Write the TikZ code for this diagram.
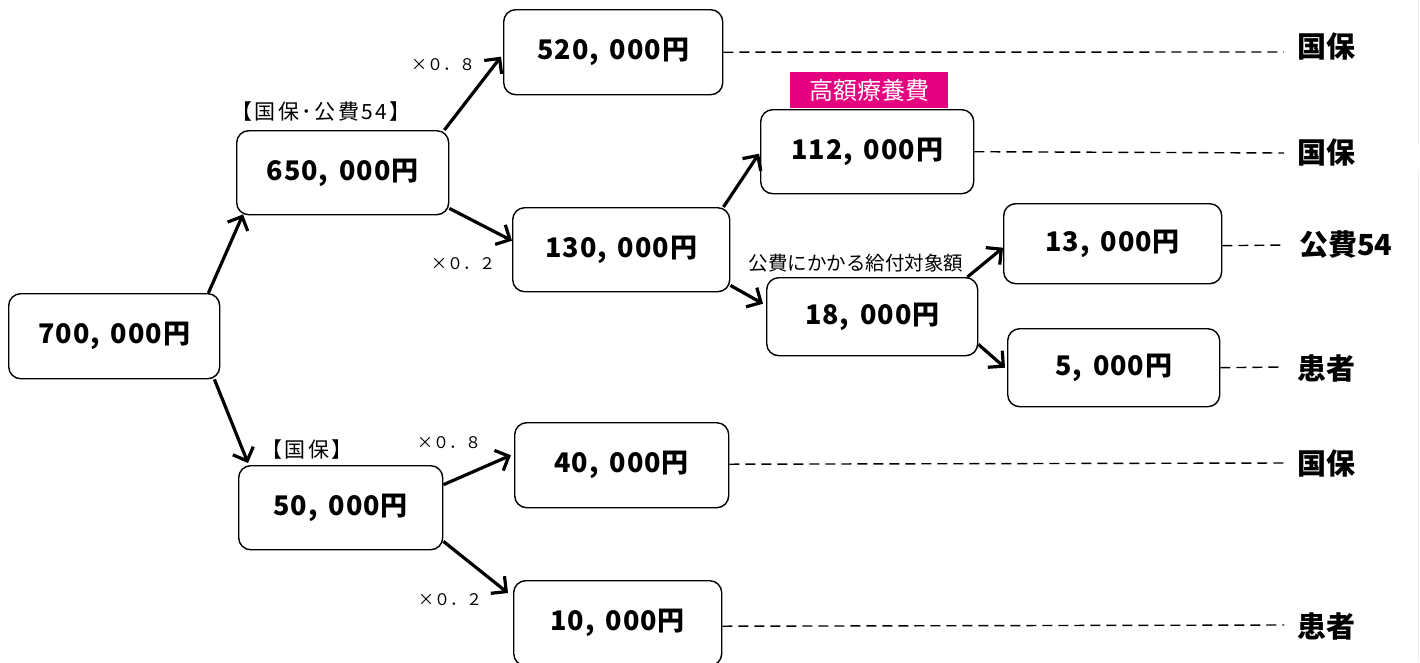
\documentclass[tikz,border=0pt]{standalone}
\usepackage{fontspec}
\setmainfont{Noto Sans CJK JP}
\usetikzlibrary{arrows.meta,calc}
\definecolor{kogaku}{HTML}{E4007F}
\newcommand{\yen}[2]{#1,\hspace{11pt}#2円}
\tikzset{
  amount/.style={draw, line width=1.4pt, rounded corners=12pt, anchor=north west,
    inner sep=0pt, font=\fontsize{27}{30}\selectfont\bfseries\addfontfeature{LetterSpace=3.5}},
  payer/.style={anchor=west, inner sep=0pt, font=\fontsize{29}{32}\selectfont\bfseries},
  note/.style={inner sep=0pt, font=\fontsize{21}{24}\selectfont\addfontfeature{LetterSpace=12}},
  rate/.style={inner sep=0pt, font=\fontsize{16}{20}\selectfont},
  flow/.style={line width=3.2pt, -{Straight Barb[length=11pt,width=22pt,line width=3.2pt]}},
  share/.style={line width=1.4pt, dash pattern=on 10pt off 6pt},
}
\begin{document}
\begin{tikzpicture}[x=1pt,y=-1pt]
\useasboundingbox (0,0) rectangle (1420,662);
\fill[white] (0,0) rectangle (1420,662);
\draw[line width=1pt, color={rgb,255:red,242;green,232;blue,238}] (1418,0) -- (1418,145) (1418,170) -- (1418,662);

% amount boxes
\node[amount, minimum width=211pt, minimum height=85pt] (A) at (8,293) {\yen{700}{000}};
\node[amount, minimum width=212pt, minimum height=84pt] (B) at (236,130) {\yen{650}{000}};
\node[amount, minimum width=219pt, minimum height=85pt] (C) at (503,9) {\yen{520}{000}};
\node[amount, minimum width=217pt, minimum height=84pt] (D) at (512,207) {\yen{130}{000}};
\node[amount, minimum width=213pt, minimum height=84pt] (E) at (760,109) {\yen{112}{000}};
\node[amount, minimum width=211pt, minimum height=78pt] (F) at (766,277) {\yen{18}{000}};
\node[amount, minimum width=218pt, minimum height=80pt] (G) at (1003,203) {\yen{13}{000}};
\node[amount, minimum width=212pt, minimum height=78pt] (H) at (1007,328) {\yen{5}{000}};
\node[amount, minimum width=204pt, minimum height=84pt] (I) at (238,465) {\yen{50}{000}};
\node[amount, minimum width=214pt, minimum height=85pt] (J) at (514,422) {\yen{40}{000}};
\node[amount, minimum width=208pt, minimum height=85pt] (K) at (513,580) {\yen{10}{000}};

% labels
\node[note] (nB) at (321,112) {【国保･公費54】};
\node[note] (nI) at (307,450) {【国保】};
\node[inner sep=0pt, font=\fontsize{19.5}{22}\selectfont] (nF) at (856,263) {公費にかかる給付対象額};
\node[fill=kogaku, text=white, inner sep=0pt, minimum width=158pt, minimum height=36pt,
  font=\fontsize{24}{26}\selectfont] (nE) at (869,90) {高額療養費};
\node[rate] (r1) at (443,65) {×０．８};
\node[rate] (r2) at (463,264) {×０．２};
\node[rate] (r3) at (449,443) {×０．８};
\node[rate] (r4) at (450,600) {×０．２};

% payers
\node[payer] (p1) at (1297,47) {国保};
\node[payer] (p2) at (1297,153) {国保};
\node[payer] (p3) at (1299,245) {公費54};
\node[payer] (p4) at (1297,368) {患者};
\node[payer] (p5) at (1297,463) {国保};
\node[payer] (p6) at (1297,626) {患者};

% flows
\draw[flow] ($(A.north east)+(-12,0)$) -- ($(B.south west)+(7,-1)$);
\draw[flow] ($(A.south east)+(-6,0)$) -- ($(I.north west)+(10,-2)$);
\draw[flow] ($(B.north east)+(-5,0)$) -- ($(C.west)+(-2,4.5)$);
\draw[flow] ($(B.south east)+(0,-7)$) -- ($(D.west)+(0,-9)$);
\draw[flow] ($(D.north east)+(-7,0)$) -- ($(E.west)+(-1,2)$);
\draw[flow] ($(D.south east)+(0,-7)$) -- ($(F.west)+(-3,-13)$);
\draw[flow] ($(F.north east)+(-11,0)$) -- ($(G.west)+(0,4)$);
\draw[flow] ($(F.south east)+(0,-12)$) -- ($(H.west)+(-2,0)$);
\draw[flow] ($(I.east)+(0,-23)$) -- ($(J.west)+(-3,-10)$);
\draw[flow] ($(I.south east)+(0,-9)$) -- ($(K.north west)+(-5,13)$);

% shares
\draw[share] (C.east) -- ($(p1.west)+(-13,5)$);
\draw[share] (E.east) -- ($(p2.west)+(-13,0)$);
\draw[share] ($(G.east)+(0,2)$) -- ($(p3.west)+(-15,0)$);
\draw[share] (H.east) -- ($(p4.west)+(-13,-1)$);
\draw[share] ($(J.east)+(0,-1)$) -- ($(p5.west)+(-13,0)$);
\draw[share] ($(K.east)+(0,3)$) -- ($(p6.west)+(-13,-1)$);
\end{tikzpicture}
\end{document}
